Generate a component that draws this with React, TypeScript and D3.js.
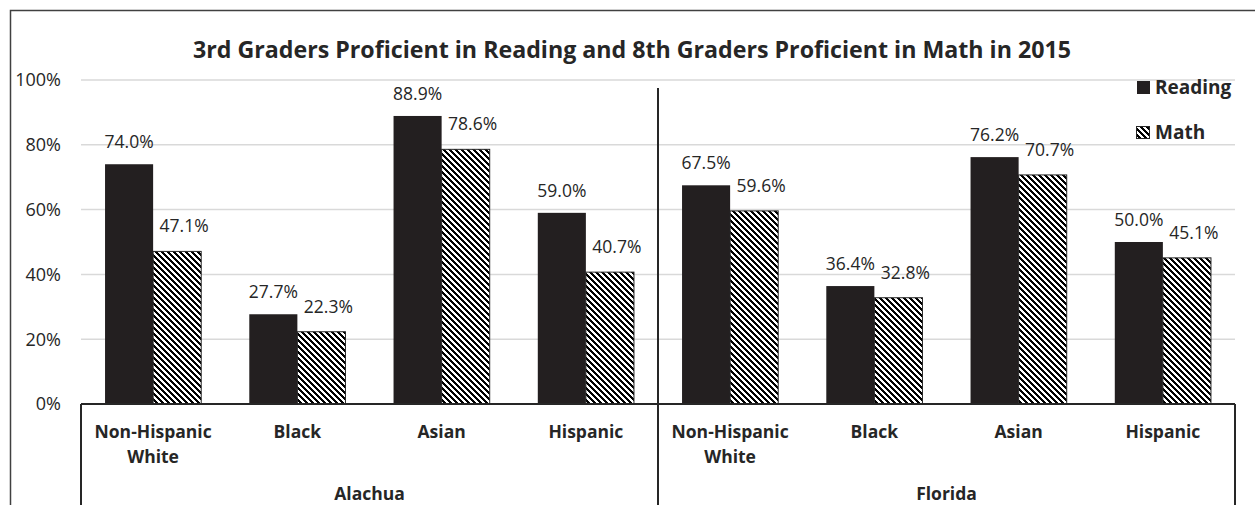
import React from "react";
import * as d3 from "d3";

const regions = ["Alachua", "Florida"];
const groups = ["Non-Hispanic White", "Black", "Asian", "Hispanic"];
const readingValues = [74.0, 27.7, 88.9, 59.0, 67.5, 36.4, 76.2, 50.0];
const mathValues = [47.1, 22.3, 78.6, 40.7, 59.6, 32.8, 70.7, 45.1];
const yTicks = [0, 20, 40, 60, 80, 100];
const seriesNames = ["Reading", "Math"];
const title = "3rd Graders Proficient in Reading and 8th Graders Proficient in Math in 2015";

const W = 1255;
const H = 505;
const FONT = "'Open Sans', sans-serif";
const TXT = "#262626";
const BAR = "#231f20";

export default function App() {
  const cats = regions.flatMap((r) => groups.map((g) => `${r}|${g}`));
  const x = d3.scaleBand<string>().domain(cats).range([81, 1235]).paddingInner(1 / 3).paddingOuter(1 / 6);
  const xs = d3.scaleBand<string>().domain(seriesNames).range([0, x.bandwidth()]);
  const y = d3.scaleLinear().domain([0, 100]).range([404, 80]);
  const step = x.step();
  const left = 81;
  const right = 1235;
  const sepX = left + step * groups.length;

  return (
    <svg width={W} height={H} style={{ position: "absolute", left: 0, top: 0, display: "block" }}>
      <defs>
        <pattern id="hatch" patternUnits="userSpaceOnUse" width="6" height="6">
          <rect width="6" height="6" fill="#fff" />
          <path d="M-1,-1 L7,7 M-1,5 L1,7 M5,-1 L7,1" stroke="#000" strokeWidth="1.8" shapeRendering="crispEdges" />
        </pattern>
      </defs>
      <rect x={0} y={0} width={W} height={H} fill="#fff" />
      {/* outer border */}
      <path d={`M10.5,${H} L10.5,10.5 L${W},10.5`} fill="none" stroke="#404040" strokeWidth={1.5} />
      <text x={632} y={58} textAnchor="middle" fontFamily={FONT} fontWeight={700} fontSize={23.2} fill={TXT}>
        {title}
      </text>
      {/* gridlines */}
      {yTicks.filter((t) => t > 0).map((t) => (
        <line key={t} x1={left} x2={right} y1={y(t)} y2={y(t)} stroke="#d9d9d9" strokeWidth={1.5} />
      ))}
      {yTicks.map((t) => (
        <text key={t} x={61} y={y(t)} dy="0.35em" textAnchor="end" fontFamily={FONT} fontSize={18} fill={TXT}>
          {t}%
        </text>
      ))}
      {/* bars */}
      {cats.map((c, i) => {
        const bx = x(c)!;
        const r = readingValues[i];
        const m = mathValues[i];
        const rx = bx + xs("Reading")!;
        const mx = bx + xs("Math")!;
        const bw = xs.bandwidth();
        return (
          <g key={c}>
            <rect x={rx} y={y(r)} width={bw} height={y(0) - y(r)} fill={BAR} />
            <rect x={mx} y={y(m)} width={bw} height={y(0) - y(m)} fill="url(#hatch)" stroke="#262626" strokeWidth={1} />
            <text x={rx + bw / 2} y={y(r) - 16} textAnchor="middle" fontFamily={FONT} fontSize={17.5} fill={TXT}>
              {r.toFixed(1)}%
            </text>
            <text x={mx + bw / 2 + 7} y={y(m) - 19} textAnchor="middle" fontFamily={FONT} fontSize={17.5} fill={TXT}>
              {m.toFixed(1)}%
            </text>
          </g>
        );
      })}
      {/* axes */}
      <line x1={left} x2={right} y1={y(0)} y2={y(0)} stroke="#262626" strokeWidth={2} />
      <line x1={left} x2={left} y1={y(0)} y2={H} stroke="#262626" strokeWidth={2} />
      <line x1={right} x2={right} y1={y(0)} y2={H} stroke="#262626" strokeWidth={2} />
      <line x1={sepX} x2={sepX} y1={y(97.5)} y2={H} stroke="#262626" strokeWidth={2} />
      {/* category labels */}
      {cats.map((c, i) => {
        const g = groups[i % groups.length];
        const cx = x(c)! + x.bandwidth() / 2;
        const lines = g === "Non-Hispanic White" ? ["Non-Hispanic", "White"] : [g];
        return (
          <text key={c} textAnchor="middle" fontFamily={FONT} fontWeight={700} fontSize={17.5} fill={TXT}>
            {lines.map((l, j) => (
              <tspan key={j} x={cx} y={438 + j * 25}>
                {l}
              </tspan>
            ))}
          </text>
        );
      })}
      {regions.map((r, i) => (
        <text key={r} x={left + step * groups.length * (i + 0.5)} y={500} textAnchor="middle" fontFamily={FONT} fontWeight={700} fontSize={17.5} fill={TXT}>
          {r}
        </text>
      ))}
      {/* legend */}
      <rect x={1137} y={81} width={13} height={13} fill={BAR} />
      <text x={1155} y={94} fontFamily={FONT} fontWeight={700} fontSize={19} fill={TXT}>
        Reading
      </text>
      <rect x={1136.5} y={126.5} width={13} height={12} fill="url(#hatch)" stroke="#262626" strokeWidth={1} />
      <text x={1155} y={139} fontFamily={FONT} fontWeight={700} fontSize={19} fill={TXT}>
        Math
      </text>
    </svg>
  );
}
